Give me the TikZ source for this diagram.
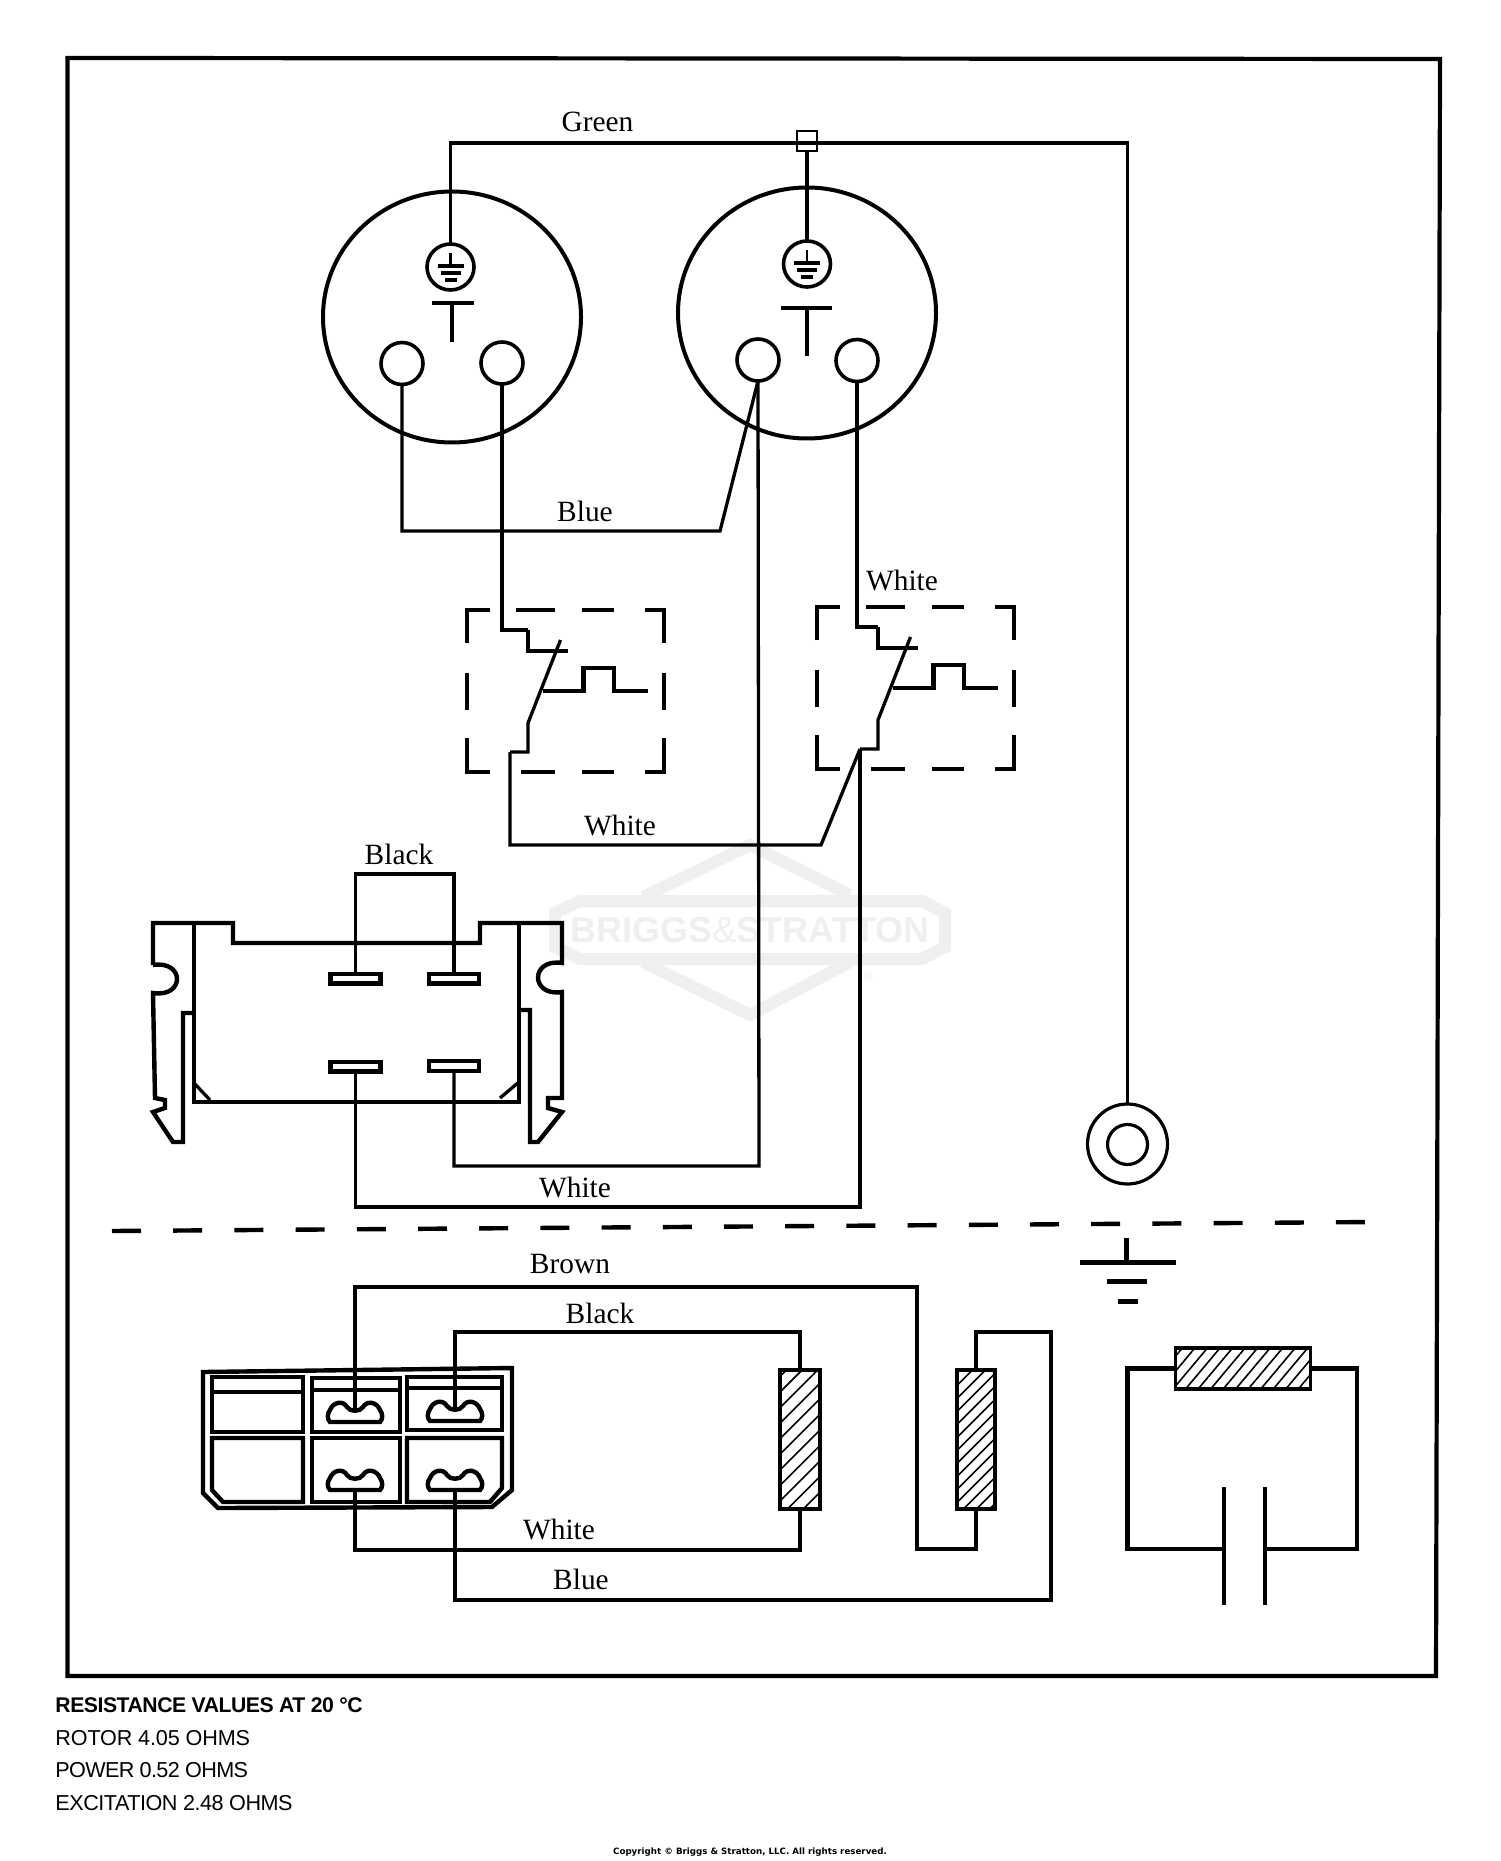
\documentclass[tikz,border=0pt]{standalone}
\usepackage{fontspec}
\setmainfont{Liberation Serif}
\setsansfont{Liberation Sans}
\newfontfamily\copyfont{DejaVu Sans}
\usetikzlibrary{shapes.geometric,patterns.meta}
\definecolor{markgray}{HTML}{EFEFEF}
\tikzset{
  wire/.style = {line width=1.65pt},
  heavy/.style = {line width=2.2pt},
  wirename/.style = {font=\fontsize{14.7}{16}\selectfont, inner sep=0pt},
  noteline/.style = {font=\sffamily\fontsize{10.8}{12}\selectfont, anchor=west, inner sep=0pt},
  oval/.style = {draw, ellipse, inner sep=0pt, outer sep=0pt},
  outlet/.style = {oval, line width=2pt, minimum width=129pt, minimum height=125.5pt},
  hole/.style = {oval, line width=1.8pt, minimum width=21pt, minimum height=21pt},
  earth/.style = {oval, line width=1.8pt, minimum width=23.5pt, minimum height=23pt},
  blade/.style = {draw, inner sep=0pt, outer sep=0pt, line width=2.2pt, minimum width=25pt, minimum height=4.8pt},
  coil/.style = {draw, inner sep=0pt, outer sep=0pt, line width=1.6pt,
    pattern={Lines[angle=45,distance=5.5pt,line width=0.8pt]}},
  plate/.style = {fill, inner sep=0pt, outer sep=0pt, minimum width=2.3pt, minimum height=59pt},
  switchbox/.pic = {
    \draw[heavy] (0,33) -- (0,0) -- (23,0) (49,0) -- (88,0) (115,0) -- (147,0)
      (178,0) -- (197,0) -- (197,33) (197,63) -- (197,100) (197,128) -- (197,162) -- (178,162)
      (147,162) -- (115,162) (88,162) -- (54,162) (23,162) -- (0,162) -- (0,128) (0,100) -- (0,63);
    \coordinate (-in) at (61,20);
    \coordinate (-out) at (43,142);
    \draw[heavy] (-in) -- (61,41) -- (101,41);
    \draw[wire] (93.5,30) -- (61,113) -- (61,142) -- (-out);
    \draw[heavy] (76,81) -- (116.5,81) -- (116.5,58) -- (147,58) -- (147,81) -- (181,81);
  },
  lug/.pic = {
    \coordinate (-dip) at (0,-10);
    \coordinate (-base) at (0,0);
    \draw[heavy] (-25,0) .. controls (-28,-3) and (-28,-8) .. (-25,-12)
      .. controls (-22,-20) and (-12,-22) .. (-8,-15) .. controls (-5,-10) and (5,-10) .. (8,-15)
      .. controls (12,-22) and (22,-20) .. (25,-12) .. controls (28,-8) and (28,-3) .. (25,0) -- cycle;
  },
  earthmark/.pic = {
    \draw[line width=1.2pt] (0,-14) -- (0,-1);
    \draw[heavy] (-13,-1) -- (13,-1) (-10,6) -- (10,6) (-6,13) -- (6,13);
  }
}
\begin{document}
\begin{tikzpicture}[x=0.5pt,y=-0.5pt]
    \useasboundingbox (0,0) rectangle (1500,1861);

    % watermark
    \draw[markgray, line width=6pt] (580,901) -- (922,901) -- (945,913) -- (945,947) -- (922,959) -- (580,959) -- (555,947) -- (555,913) -- cycle;
    \draw[markgray, line width=6pt] (643,897) -- (750,845) -- (850,895) (643,962) -- (750,1015) -- (850,962);
    \node[text=markgray, inner sep=0pt, font=\sffamily\bfseries\fontsize{18}{18}\selectfont] (mark) at (750,930) {BRIGGS{\mdseries\&}STRATTON};
    \node[text=markgray, inner sep=0pt, font=\sffamily\fontsize{6}{7}\selectfont] (markR) at (868,977) {\textregistered};

    % frame
    \draw[line width=2.1pt] (67.5,58) -- (1440,59) -- (1436,1676) -- (67.5,1676) -- cycle;

    % outlets
    \node[outlet] (outA) at (452,317) {};
    \node[outlet] (outB) at (807,313) {};
    \node[earth] (earthA) at (450.5,267) {};
    \node[earth] (earthB) at (807,264) {};
    \pic at (450.5,267) {earthmark};
    \pic at (807,264) {earthmark};
    \node[hole] (hole1) at (402,363.5) {};
    \node[hole] (hole2) at (502,363) {};
    \node[hole] (hole3) at (758,360) {};
    \node[hole] (hole4) at (857,360.5) {};
    \draw[heavy] (432,303) -- (474,303) (781,308) -- (832,308);
    \draw[wire] (452,303) -- (452,342) (807,308) -- (807,356);

    % switches
    \pic (swA) at (467,610) {switchbox};
    \pic (swB) at (817,607) {switchbox};

    % plug
    \draw[heavy] (153,965) -- (153,923) -- (233,923) -- (233,943) -- (480,943) -- (480,923) -- (562,923) -- (562,963)
      .. controls (530,958) and (530,997) .. (562,992) -- (562,1098) -- (548,1098) -- (548,1108) -- (562,1112)
      -- (538,1142) -- (530,1142) -- (530,1010) -- (520,1010);
    \draw[heavy] (153,965) .. controls (185,960) and (185,998) .. (153,993) -- (155,1098) -- (165,1100) -- (165,1108)
      -- (153,1112) -- (173,1142) -- (183,1142) -- (183,1013) -- (193,1013);
    \draw[heavy] (194,923) -- (194,1102) -- (519,1102) -- (519,923);
    \draw[wire] (194,1083) -- (210,1100) (519,1082) -- (500,1098);
    \node[blade] (bladeTL) at (355.5,978.5) {};
    \node[blade] (bladeTR) at (454,978.5) {};
    \node[blade] (bladeBL) at (355.5,1066.5) {};
    \node[blade] (bladeBR) at (454,1066) {};

    % ground lead
    \node[oval, line width=1.6pt, minimum size=40pt] (ring) at (1127.5,1144) {};
    \node[oval, line width=1.6pt, minimum size=20pt] (ringIn) at (1127.5,1144.5) {};
    \node[draw, inner sep=0pt, line width=1pt, minimum width=10pt, minimum height=10pt] (clamp) at (807,141) {};
    \coordinate (tap) at (807,143);
    \draw[wire] (earthA.north) |- (tap) -| (ring.north);
    \draw[wire] (earthB.north) -- (clamp.south);

    % top half wires
    \coordinate (bendBlue) at (720,531);
    \coordinate (bendWhite) at (821,845);
    \coordinate (runA) at (759,1166);
    \coordinate (runB) at (860,1207);
    \coordinate (bridge) at (400,874);
    \draw[wire] (hole1.south) |- (bendBlue) -- (hole3.south);
    \draw[wire] (hole2.south) |- (swA-in);
    \draw[wire] (hole4.south) |- (swB-in);
    \draw[wire] (swA-out) |- (bendWhite) -- (swB-out);
    \draw[wire] (hole3.south) -- (runA) -| (bladeBR.south);
    \draw[wire] (swB-out) -- (runB) -| (bladeBL.south);
    \draw[wire] (bladeTL.north) |- (bridge) -| (bladeTR.north);

    % divider and ground symbol
    \draw[line width=2.2pt, dash pattern=on 14.5pt off 16.1pt] (112,1231) -- (1376,1222);
    \draw[heavy] (1126.5,1238) -- (1126.5,1262);
    \draw[line width=2.5pt] (1080,1262) -- (1176,1262) (1107,1281) -- (1146.5,1281) (1118,1301) -- (1137.5,1301);

    % stator connector
    \draw[heavy] (203,1372) -- (512,1368) -- (512,1490) -- (492,1507) -- (218,1508) -- (203,1493) -- cycle;
    \foreach \xa/\xb/\ya/\yb/\yc in {212/303/1377/1432/1392, 312/400/1378/1432/1390, 407/502/1377/1430/1388}{
      \draw[heavy] (\xa,\ya) rectangle (\xb,\yb) (\xa,\yc) -- (\xb,\yc);
    }
    \draw[heavy] (312,1438) rectangle (400,1502);
    \draw[heavy] (212,1438) -- (303,1438) -- (303,1502) -- (223,1502) -- (212,1490) -- cycle;
    \draw[heavy] (407,1438) -- (502,1438) -- (502,1488) -- (490,1502) -- (407,1502) -- cycle;
    \pic (lugB) at (355,1422) {lug};
    \pic (lugC) at (455,1421) {lug};
    \pic (lugE) at (355,1490) {lug};
    \pic (lugF) at (455,1490) {lug};

    % windings
    \node[coil, minimum width=20pt, minimum height=69.5pt] (coilA) at (800,1439.5) {};
    \node[coil, minimum width=19pt, minimum height=69.5pt, pattern={Lines[angle=45,distance=4.6pt,line width=0.8pt]}] (coilB) at (976,1439.5) {};
    \node[coil, minimum width=67.5pt, minimum height=20.5pt, pattern={Lines[angle=50,distance=4.8pt,line width=0.8pt]}] (rotor) at (1243,1368.5) {};
    \coordinate (brownA) at (917,1287);
    \coordinate (brownB) at (917,1549);
    \coordinate (blackA) at (800,1332);
    \coordinate (whiteA) at (800,1550);
    \coordinate (blueA) at (1051,1600);
    \coordinate (blueB) at (1051,1332);
    \draw[wire] (lugB-dip) |- (brownA) -- (brownB) -| (coilB.south);
    \draw[wire] (lugC-dip) |- (blackA) -- (coilA.north);
    \draw[wire] (lugE-base) |- (whiteA) -- (coilA.south);
    \draw[wire] (lugF-base) |- (blueA) -- (blueB) -| (coilB.north);

    % rotor loop
    \node[plate] (capA) at (1224,1546) {};
    \node[plate] (capB) at (1265,1546) {};
    \coordinate (cornerA) at (1127.5,1549);
    \coordinate (cornerB) at (1357,1549);
    \draw[heavy] (rotor.west) -| (cornerA) -- (capA.west |- cornerA);
    \draw[heavy] (rotor.east) -| (cornerB) -- (capB.east |- cornerB);

    % wire colours
    \node[wirename] (green) at (597.5,122) {Green};
    \node[wirename] (blueTop) at (585,511) {Blue};
    \node[wirename] (whiteSw) at (902,581) {White};
    \node[wirename] (whiteMid) at (620,826) {White};
    \node[wirename] (blackTop) at (399,854) {Black};
    \node[wirename] (whiteLow) at (575,1188) {White};
    \node[wirename] (brown) at (570,1264) {Brown};
    \node[wirename] (blackLow) at (600,1313) {Black};
    \node[wirename] (whiteBot) at (559,1530) {White};
    \node[wirename] (blueBot) at (581,1579) {Blue};

    % notes
    \node[noteline, font=\sffamily\bfseries\fontsize{10.6}{12}\selectfont\addfontfeature{LetterSpace=-2.2}] (note0) at (55,1705) {RESISTANCE VALUES AT 20 °C};
    \node[noteline, font=\sffamily\fontsize{10.8}{12}\selectfont\addfontfeature{LetterSpace=-0.7}] (note1) at (55,1738) {ROTOR 4.05 OHMS};
    \node[noteline, font=\sffamily\fontsize{10.8}{12}\selectfont\addfontfeature{LetterSpace=-3}] (note2) at (55,1770) {POWER 0.52 OHMS};
    \node[noteline, font=\sffamily\fontsize{10.8}{12}\selectfont\addfontfeature{LetterSpace=-2.2}] (note3) at (55,1803) {EXCITATION 2.48 OHMS};
    \node[inner sep=0pt, font=\copyfont\bfseries\fontsize{4.35}{5}\selectfont] (copy) at (750,1852) {Copyright © Briggs \& Stratton, LLC. All rights reserved.};
\end{tikzpicture}
\end{document}
